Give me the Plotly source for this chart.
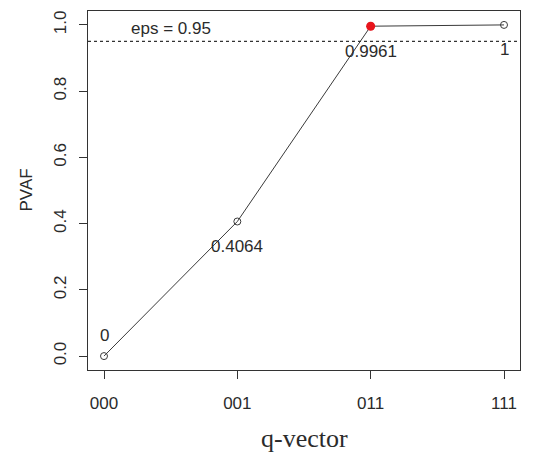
import plotly.graph_objects as go

categories = ["000", "001", "011", "111"]
pvaf = [0.0, 0.4064, 0.9961, 1.0]
value_labels = ["0", "0.4064", "0.9961", "1"]
label_above = [True, False, False, False]
selected_index = 2
eps = 0.95

xs = list(range(len(categories)))
ink = "#2b2b2b"

fig = go.Figure()
fig.add_trace(go.Scatter(
    x=xs, y=pvaf, mode="lines+markers",
    line=dict(color="#3a3a3a", width=1),
    marker=dict(symbol="circle-open", size=7, color="#3a3a3a", line=dict(width=1)),
    showlegend=False, hoverinfo="skip"))
fig.add_trace(go.Scatter(
    x=[xs[selected_index]], y=[pvaf[selected_index]], mode="markers",
    marker=dict(symbol="circle", size=9, color="#e8141c"),
    showlegend=False, hoverinfo="skip"))

fig.add_hline(y=eps, line=dict(color="#333", width=1.2, dash="dot"))
fig.add_annotation(x=0.5, y=eps, text="eps = 0.95", showarrow=False,
                   yanchor="bottom", yshift=1, font=dict(size=17, color=ink))

for x, y, t, above in zip(xs, pvaf, value_labels, label_above):
    fig.add_annotation(x=x, y=y, text=t, showarrow=False,
                       yshift=21 if above else -25, font=dict(size=17, color=ink))

font = dict(family="Liberation Sans, Arial", size=17, color=ink)

# axis titles placed in paper coordinates (plot area: x 88..520, y 11..370 px)
fig.add_annotation(xref="paper", yref="paper", x=0.5, y=-0.19, text="q-vector",
                   showarrow=False, yanchor="middle", borderpad=0,
                   font=dict(family="Liberation Serif, Times New Roman", size=26, color=ink))
fig.add_annotation(xref="paper", yref="paper", x=-0.1435, y=0.5, text="PVAF",
                   showarrow=False, textangle=-90, xanchor="center",
                   font=font)

fig.update_layout(
    width=548, height=456,
    margin=dict(l=88, r=28, t=11, b=86),
    paper_bgcolor="white", plot_bgcolor="white",
    font=font,
    xaxis=dict(range=[-0.12, 3.12], tickvals=xs, ticktext=categories,
               showgrid=False, zeroline=False, showline=True, mirror=True,
               linecolor="#333", linewidth=1.2, ticks="outside", ticklen=8,
               tickcolor="#333", tickfont=font, ticklabelstandoff=9,
               automargin=False),
    yaxis=dict(range=[-0.042, 1.042], tickvals=[0, 0.2, 0.4, 0.6, 0.8, 1.0],
               ticktext=["0.0", "0.2", "0.4", "0.6", "0.8", "1.0"],
               tickangle=-90, showgrid=False, zeroline=False, showline=True, mirror=True,
               linecolor="#333", linewidth=1.2, ticks="outside", ticklen=8,
               tickcolor="#333", tickfont=font, ticklabelstandoff=6,
               automargin=False),
)
fig.write_html("out.html")
